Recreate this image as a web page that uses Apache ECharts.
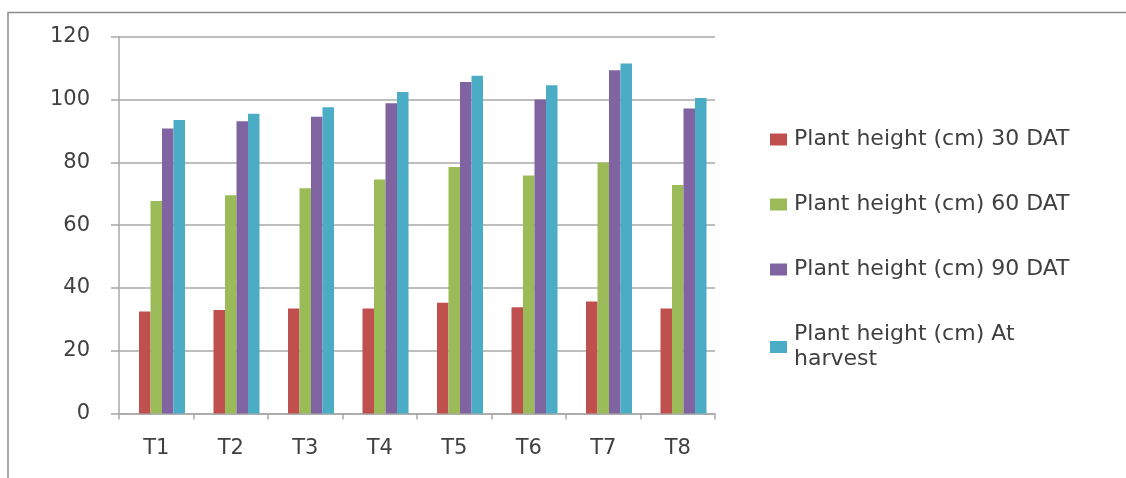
<!DOCTYPE html>
<html>
<head>
<meta charset="utf-8">
<title>Plant height</title>
<script src="https://cdn.jsdelivr.net/npm/echarts@6/dist/echarts.min.js"></script>
<style>
    html, body { margin: 0; padding: 0; background: #fff; }
    #main { width: 1126px; height: 478px; }
</style>
</head>
<body>
<div id="main"></div>
<script>
var categories = ['T1', 'T2', 'T3', 'T4', 'T5', 'T6', 'T7', 'T8'];
var seriesNames = [
    'Plant height (cm) 30 DAT',
    'Plant height (cm) 60 DAT',
    'Plant height (cm) 90 DAT',
    'Plant height (cm) At harvest'
];
var dat30 = [32.5, 33.0, 33.4, 33.4, 35.3, 33.8, 35.7, 33.4];
var dat60 = [67.7, 69.5, 71.7, 74.5, 78.5, 75.8, 79.9, 72.8];
var dat90 = [90.8, 93.1, 94.5, 98.8, 105.6, 100.0, 109.3, 97.1];
var atHarvest = [93.5, 95.5, 97.5, 102.4, 107.6, 104.5, 111.5, 100.5];
var yTicks = { min: 0, max: 120, interval: 20 };

(function (window) {
    var colors = ['#C0504D', '#9BBB59', '#8064A2', '#4BACC6'];
    var values = [dat30, dat60, dat90, atHarvest];
    var textColor = '#404040';
    var lineColor = '#a8a8a8';

    var series = [{
        // empty slot so the bar group sits a bit right of the category centre, like the original
        name: 'spacer',
        type: 'bar',
        data: [],
        barWidth: 11.5,
        barGap: '0%',
        silent: true
    }];
    for (var i = 0; i < values.length; i++) {
        series.push({
            name: seriesNames[i],
            type: 'bar',
            data: values[i],
            barWidth: 11.5,
            barGap: '0%',
            itemStyle: { color: colors[i] }
        });
    }

    var option = {
        animation: false,
        backgroundColor: '#fff',
        textStyle: { fontFamily: 'DejaVu Sans' },
        graphic: [{
            type: 'polyline',
            shape: { points: [[8, 478], [8, 12.5], [1126, 12.5]] },
            style: { stroke: '#8c8c8c', lineWidth: 1.5, fill: null }
        }],
        legend: {
            orient: 'vertical',
            left: 765,
            top: 122,
            data: seriesNames,
            itemWidth: 17,
            itemHeight: 12,
            itemGap: 40,
            icon: 'rect',
            formatter: function (name) {
                return name === seriesNames[3] ? 'Plant height (cm) At\nharvest' : name;
            },
            textStyle: {
                fontFamily: 'DejaVu Sans',
                fontSize: 22,
                lineHeight: 25,
                color: textColor,
                padding: [0, 0, 0, 2]
            }
        },
        grid: {
            left: 119,
            right: 411,
            top: 36.7,
            bottom: 64.5,
            containLabel: false
        },
        xAxis: {
            type: 'category',
            data: categories,
            axisLine: { lineStyle: { color: lineColor, width: 1.5 } },
            axisTick: { show: true, length: 6, lineStyle: { color: lineColor, width: 1.5 } },
            axisLabel: { color: textColor, fontSize: 21, margin: 25 },
            splitLine: { show: false }
        },
        yAxis: {
            type: 'value',
            min: yTicks.min,
            max: yTicks.max,
            interval: yTicks.interval,
            axisLine: { show: true, lineStyle: { color: lineColor, width: 1.5 } },
            axisTick: { show: true, length: 8, lineStyle: { color: lineColor, width: 1.5 } },
            axisLabel: { color: textColor, fontSize: 21, margin: 29 },
            splitLine: { show: true, lineStyle: { color: lineColor, width: 1.5 } }
        },
        series: series
    };

    var myChart = echarts.init(document.getElementById('main'), null, { renderer: 'canvas' });
    myChart.setOption(option);
})(window);
</script>
</body>
</html>
